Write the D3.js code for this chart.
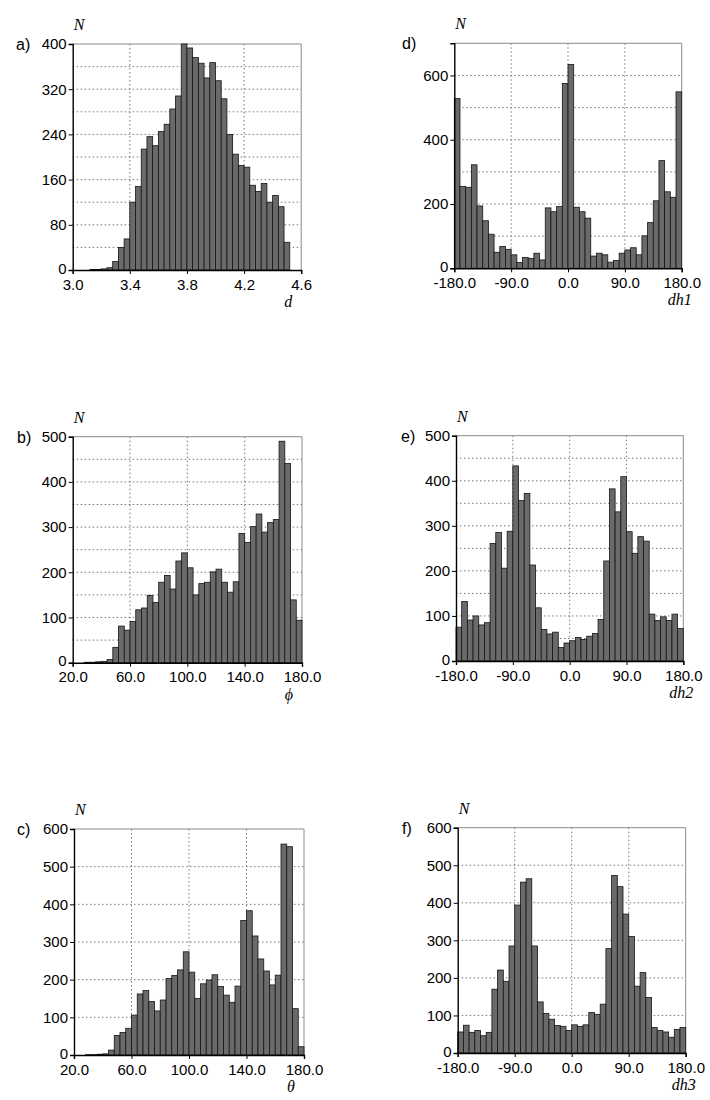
<!DOCTYPE html>
<html lang="en">
<head>
<meta charset="utf-8">
<title>Distributions</title>
<style>
body { margin: 0; background: #fff; }
svg text { font-family: "Liberation Sans", Arial, Helvetica, sans-serif; fill: #000; }
.tick text { font-size: 15px; }
.ital { font-family: "Liberation Serif", "Times New Roman", serif !important; font-style: italic; font-size: 16px; }
.grid line { stroke: #555; stroke-width: 0.8; stroke-dasharray: 1.5,2.5; }
.bar { fill: #6a6a6a; stroke: #151515; stroke-width: 0.8; }
.frame { stroke: #8a8a8a; stroke-width: 1; fill: none; }
</style>
<script src="https://cdn.jsdelivr.net/npm/d3@7"></script>
</head>
<body>
<script>
// bin starts / widths and counts
var dStart = 3.12, dStep = 0.04;
var dCounts = [1, 1, 2, 4, 15, 40, 55, 120, 148, 214, 236, 220, 245, 258, 285, 308,
               400, 393, 376, 366, 340, 367, 335, 303, 240, 205, 185, 182, 150, 139,
               153, 120, 132, 112, 49];

var phiStart = 28, phiStep = 4;
var phiCounts = [1, 1, 2, 3, 7, 34, 81, 72, 91, 117, 121, 149, 133, 178, 193, 163,
                 225, 243, 210, 150, 175, 178, 201, 207, 178, 156, 179, 286, 266, 301,
                 329, 289, 310, 317, 490, 441, 139, 94];

var thetaStart = 28, thetaStep = 4;
var thetaCounts = [1, 1, 2, 3, 13, 52, 60, 71, 106, 162, 171, 142, 117, 146, 203, 211,
                   226, 274, 220, 150, 189, 199, 213, 182, 159, 140, 183, 357, 383, 316,
                   255, 223, 186, 212, 560, 553, 123, 22];

var dhStart = -180, dhStep = 9;
var dh1Counts = [528, 255, 252, 322, 194, 148, 106, 50, 68, 59, 42, 18, 34, 31, 47, 26,
                 188, 176, 192, 575, 634, 190, 176, 156, 38, 47, 42, 19, 24, 47,
                 57, 64, 42, 101, 142, 210, 335, 238, 221, 549];
var dh2Counts = [75, 132, 91, 100, 80, 85, 261, 285, 206, 288, 433, 356, 372, 213, 118, 70,
                 60, 64, 30, 40, 45, 52, 48, 55, 61, 92, 222, 382, 331, 409,
                 287, 239, 276, 266, 104, 90, 98, 90, 104, 72];
var dh3Counts = [56, 74, 55, 60, 46, 55, 170, 221, 191, 285, 394, 455, 464, 285, 136, 105,
                 90, 73, 71, 60, 75, 71, 75, 108, 103, 130, 278, 473, 443, 370,
                 310, 178, 214, 148, 68, 60, 56, 42, 63, 68];

// tick labels
var dTicks = [3.0, 3.4, 3.8, 4.2, 4.6];
var angTicks = [20, 60, 100, 140, 180];
var dhTicks = [-180, -90, 0, 90, 180];
var yTicksA = [0, 80, 160, 240, 320, 400];
var yTicks500 = [0, 100, 200, 300, 400, 500];
var yTicks600 = [0, 100, 200, 300, 400, 500, 600];
var yTicksD = [0, 200, 400, 600];

var W = 710, H = 1100;
var svg = d3.select("body").append("svg")
            .attr("width", W)
            .attr("height", H);

// plain hyphen for negatives, like the original
var fmt1 = function(v) { return d3.format(".1f")(v).replace("\u2212", "-"); };

var panels = [
  {tag: "a)", name: "d", counts: dCounts, start: dStart, step: dStep, xDom: [3.0, 4.6], xTicks: dTicks,
   yMax: 400, yTicks: yTicksA, yGrid: 40, x0: 72.7, y0: 44, w: 228.5, h: 226, tagX: 16, nameDx: -13},
  {tag: "b)", name: "\u03d5", counts: phiCounts, start: phiStart, step: phiStep, xDom: [20, 180], xTicks: angTicks,
   yMax: 500, yTicks: yTicks500, yGrid: 50, x0: 72.7, y0: 436.7, w: 229.3, h: 226, tagX: 17, nameDx: -13},
  {tag: "c)", name: "\u03b8", counts: thetaCounts, start: thetaStart, step: thetaStep, xDom: [20, 180], xTicks: angTicks,
   yMax: 600, yTicks: yTicks600, yGrid: 100, x0: 74, y0: 829, w: 230, h: 226, tagX: 17, nameDx: -13},
  {tag: "d)", name: "dh1", counts: dh1Counts, start: dhStart, step: dhStep, xDom: [-180, 180], xTicks: dhTicks,
   yMax: 700, yTicks: yTicksD, yGrid: 100, x0: 454.3, y0: 43.3, w: 227.4, h: 225, tagX: 402, nameDx: -2},
  {tag: "e)", name: "dh2", counts: dh2Counts, start: dhStart, step: dhStep, xDom: [-180, 180], xTicks: dhTicks,
   yMax: 500, yTicks: yTicks500, yGrid: 50, x0: 456, y0: 435.7, w: 227.3, h: 225.3, tagX: 401, nameDx: -2},
  {tag: "f)", name: "dh3", counts: dh3Counts, start: dhStart, step: dhStep, xDom: [-180, 180], xTicks: dhTicks,
   yMax: 600, yTicks: yTicks600, yGrid: 100, x0: 457.7, y0: 827.7, w: 228, h: 225.3, tagX: 402, nameDx: -2}
];

panels.forEach(function(p) {
  var g = svg.append("g").attr("transform", "translate(" + p.x0 + "," + p.y0 + ")");
  var x = d3.scaleLinear().domain(p.xDom).range([0, p.w]);
  var y = d3.scaleLinear().domain([0, p.yMax]).range([p.h, 0]);

  // dotted grid
  var grid = g.append("g").attr("class", "grid");
  grid.selectAll("line.h")
      .data(d3.range(p.yGrid, p.yMax, p.yGrid))
      .enter().append("line")
      .attr("x1", 0).attr("x2", p.w)
      .attr("y1", function(d) { return y(d); })
      .attr("y2", function(d) { return y(d); });
  grid.selectAll("line.v")
      .data(p.xTicks.slice(1, -1))
      .enter().append("line")
      .attr("y1", 0).attr("y2", p.h)
      .attr("x1", function(d) { return x(d); })
      .attr("x2", function(d) { return x(d); });

  // frame top / right
  g.append("path").attr("class", "frame")
   .attr("d", "M0,0H" + p.w + "V" + p.h);

  // bars
  g.selectAll("rect.bar")
   .data(p.counts)
   .enter().append("rect")
   .attr("class", "bar")
   .attr("x", function(d, i) { return x(p.start + i * p.step); })
   .attr("width", function(d, i) { return x(p.start + (i + 1) * p.step) - x(p.start + i * p.step); })
   .attr("y", function(d) { return y(d); })
   .attr("height", function(d) { return p.h - y(d); });

  // axes
  var ya = g.append("g")
            .call(d3.axisLeft(y).tickValues(p.yTicks).tickSize(4).tickPadding(2).tickFormat(d3.format("d")));
  ya.select(".domain").attr("stroke", "#000").attr("stroke-width", 1.4);
  ya.selectAll(".tick").filter(function(d) { return d === 0; }).select("text").attr("dy", "0.2em");
  var xa = g.append("g")
            .attr("transform", "translate(0," + p.h + ")")
            .call(d3.axisBottom(x).tickValues(p.xTicks).tickSize(4).tickPadding(5).tickFormat(fmt1));
  xa.select(".domain").attr("stroke", "#000").attr("stroke-width", 1.4);
  g.selectAll(".tick text").attr("font-family", null);

  // labels
  svg.append("text").attr("class", "ital")
     .attr("x", p.x0 + 1).attr("y", p.y0 - 14)
     .text("N");
  svg.append("text")
     .attr("x", p.tagX).attr("y", p.y0 + 6)
     .style("font-size", "16px")
     .text(p.tag);
  svg.append("text").attr("class", "ital")
     .attr("x", p.x0 + p.w + p.nameDx).attr("y", p.y0 + p.h + 37)
     .attr("text-anchor", "middle")
     .text(p.name);
});
</script>
</body>
</html>
